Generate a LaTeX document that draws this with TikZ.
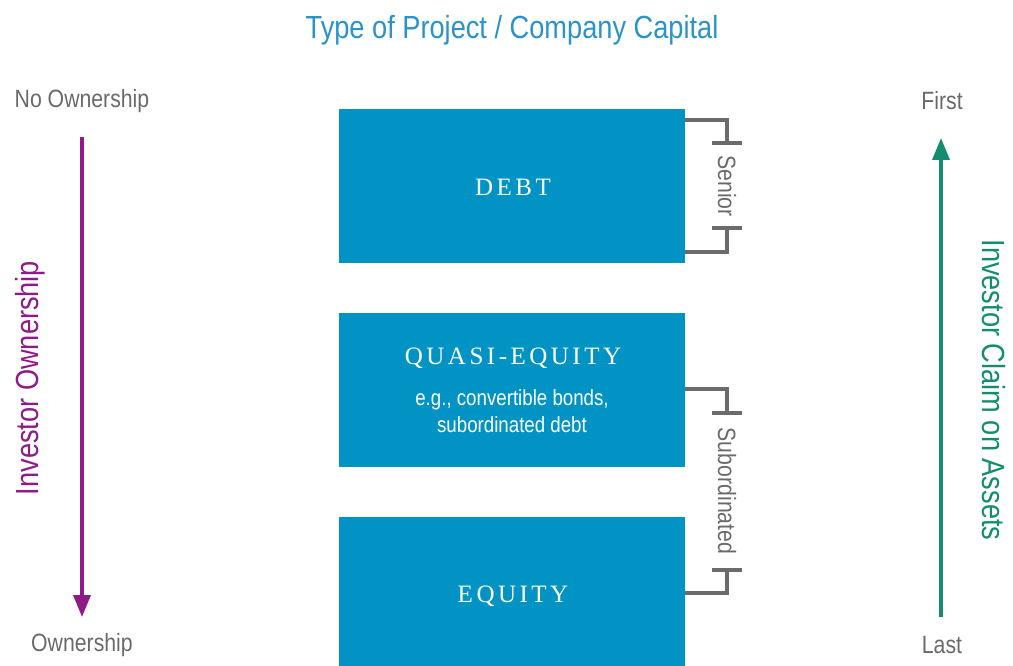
\documentclass[tikz,border=0pt]{standalone}
\usepackage{fontspec}
\setmainfont{Liberation Sans}[FakeStretch=0.85]
\newfontfamily\capsfont{Liberation Serif}[LetterSpace=14]
\usetikzlibrary{arrows.meta}
\definecolor{boxblue}{HTML}{0093C4}
\definecolor{titleblue}{HTML}{2A93C8}
\definecolor{labgray}{HTML}{6A6A6A}
\definecolor{brgray}{HTML}{6B6B6B}
\definecolor{ownpurple}{HTML}{8E1B87}
\definecolor{claimgreen}{HTML}{128E6E}
\tikzset{
  capbox/.style={fill=boxblue, draw=none, minimum width=346pt, inner sep=0pt, anchor=north west},
  captext/.style={text=white, font=\capsfont\fontsize{25}{29}\selectfont, inner sep=0pt},
  subtext/.style={text=white, font=\fontsize{22}{27}\selectfont, align=center, inner sep=0pt},
  endlabel/.style={text=labgray, font=\fontsize{25}{29}\selectfont, inner sep=0pt},
  sidelabel/.style={font=\fontsize{32}{36}\selectfont, inner sep=0pt},
  brlabel/.style={text=labgray, font=\fontsize{25}{29}\selectfont, inner sep=0pt, rotate=-90},
  bracket/.style={draw=brgray, line width=3.5pt},
  bigarrow/.style={line width=3.5pt, -{Triangle[length=22pt,width=17pt]}}
}
\begin{document}
\begin{tikzpicture}[x=1pt,y=-1pt]
\useasboundingbox (0,0) rectangle (1013,666);
% title
\node[text=titleblue, font=\fontsize{32}{36}\selectfont, inner sep=0pt] (title) at (512,30) {Type of Project / Company Capital};
% boxes
\node[capbox, minimum height=154pt] (debt) at (339,109) {};
\node[capbox, minimum height=154pt] (quasi) at (339,313) {};
\node[capbox, minimum height=149pt] (equity) at (339,517) {};
\node[captext] (debtlab) at (513,187) {DEBT};
\node[captext] (quasilab) at (513,358) {QUASI-EQUITY};
\node[subtext] (quasisub) at (512,411) {e.g., convertible bonds,\\subordinated debt};
\node[captext] (equitylab) at (513,596) {EQUITY};
% brackets
\coordinate (s1) at (685,120);
\coordinate (s2) at (727,120);
\coordinate (s3) at (727,143);
\coordinate (s4) at (712,143);
\coordinate (s5) at (742,143);
\coordinate (s6) at (727,252);
\coordinate (s7) at (685,252);
\coordinate (s8) at (727,228);
\coordinate (s9) at (712,228);
\coordinate (s10) at (742,228);
\draw[bracket] (s1) -- (s2) -- (s3);
\draw[bracket] (s4) -- (s5);
\draw[bracket] (s7) -- (s6) -- (s8);
\draw[bracket] (s9) -- (s10);
\node[brlabel] (senior) at (727,186) {Senior};
\coordinate (b1) at (685,389);
\coordinate (b2) at (727,389);
\coordinate (b3) at (727,413);
\coordinate (b4) at (712,413);
\coordinate (b5) at (742,413);
\coordinate (b6) at (727,593);
\coordinate (b7) at (685,593);
\coordinate (b8) at (727,570);
\coordinate (b9) at (712,570);
\coordinate (b10) at (742,570);
\draw[bracket] (b1) -- (b2) -- (b3);
\draw[bracket] (b4) -- (b5);
\draw[bracket] (b7) -- (b6) -- (b8);
\draw[bracket] (b9) -- (b10);
\node[brlabel] (subord) at (727,491) {Subordinated};
% left arrow
\node[endlabel] (noown) at (82,101) {No Ownership};
\node[endlabel] (own) at (82,645) {Ownership};
\coordinate (la) at (82,137);
\coordinate (lb) at (82,617);
\draw[bigarrow, draw=ownpurple, fill=ownpurple] (la) -- (lb);
\node[sidelabel, text=ownpurple, rotate=90] (invown) at (30,378) {Investor Ownership};
% right arrow
\node[endlabel] (first) at (942,101) {First};
\node[endlabel] (last) at (942,645) {Last};
\coordinate (ra) at (941,617);
\coordinate (rb) at (941,138);
\draw[bigarrow, draw=claimgreen, fill=claimgreen] (ra) -- (rb);
\node[sidelabel, text=claimgreen, rotate=-90] (invclaim) at (994,390) {Investor Claim on Assets};
\end{tikzpicture}
\end{document}
